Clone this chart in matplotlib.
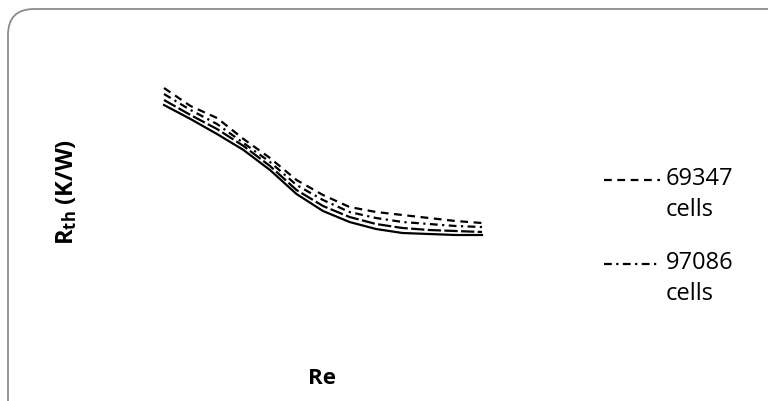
import matplotlib.pyplot as plt
from matplotlib.lines import Line2D
from matplotlib.patches import FancyBboxPatch

plt.rcParams['font.family'] = ['Open Sans', 'DejaVu Sans']
plt.rcParams['mathtext.fontset'] = 'custom'
plt.rcParams['mathtext.rm'] = 'Open Sans'
plt.rcParams['mathtext.bf'] = 'Open Sans:bold'

# Reynolds number (no tick labels in the original, values are relative)
re = [100, 200, 300, 400, 500, 600, 700, 800, 900, 1000, 1100, 1200, 1300]

# thermal resistance for the four meshes
rth_69347 = [1.97, 1.79, 1.67, 1.46, 1.27, 1.05, 0.90, 0.78, 0.73, 0.70, 0.67, 0.64, 0.62]
rth_97086 = [1.91, 1.75, 1.61, 1.42, 1.23, 1.00, 0.85, 0.73, 0.67, 0.63, 0.61, 0.59, 0.58]
rth_mesh3 = [1.85, 1.70, 1.56, 1.39, 1.19, 0.95, 0.79, 0.68, 0.61, 0.57, 0.55, 0.54, 0.53]
rth_mesh4 = [1.80, 1.66, 1.51, 1.35, 1.15, 0.91, 0.74, 0.63, 0.56, 0.52, 0.51, 0.50, 0.50]

W, H = 768, 401
fig = plt.figure(figsize=(W / 100, H / 100), dpi=100)

# rounded chart border (in inches), partly running off the image
border = FancyBboxPatch((0.08, -0.30), 7.9, 4.22,
                        boxstyle="round,pad=0,rounding_size=0.26",
                        transform=fig.dpi_scale_trans, fill=False,
                        edgecolor='#8c8c8c', linewidth=1.3)
fig.patches.append(border)

# axes placed in pixel space: x 130..520, y 60..270 (from top)
ax = fig.add_axes([130 / W, (H - 270) / H, 390 / W, 210 / H])
ax.set_xlim(100 + (130 - 164) / 26.5 * 100, 100 + (520 - 164) / 26.5 * 100)
ax.set_ylim(0.5 + (235 - 270) / 100, 0.5 + (235 - 60) / 100)
ax.axis('off')

lw = 1.6
ax.plot(re, rth_69347, color='black', lw=lw, linestyle=(0, (3.5, 2.5)))
ax.plot(re, rth_97086, color='black', lw=lw, linestyle=(0, (3.5, 2, 1, 2)))
ax.plot(re, rth_mesh3, color='black', lw=lw, linestyle=(0, (6, 1.5)))
ax.plot(re, rth_mesh4, color='black', lw=lw, linestyle='-')

# axis titles
fig.text(67 / W, 1 - 192 / H, r'$\mathbf{R_{th}}$ (K/W)', rotation=90,
         ha='center', va='center', fontsize=17, fontweight='bold')
fig.text(322 / W, 1 - 378 / H, 'Re', ha='center', va='center',
         fontsize=16, fontweight='bold')

# legend (only two entries visible in the original)
leg_items = [("69347\ncells", (0, (3.5, 2.5)), 180),
             ("97086\ncells", (0, (3.5, 2, 1, 2)), 264)]
for label, ls, ypix in leg_items:
    fig.add_artist(Line2D([604 / W, 660 / W], [1 - ypix / H] * 2,
                          transform=fig.transFigure, color='black',
                          lw=lw, linestyle=ls))
    fig.text(666 / W, 1 - (ypix - 13) / H, label, ha='left', va='top',
             fontsize=17, linespacing=1.4)

fig.savefig('out.png', dpi=100)
